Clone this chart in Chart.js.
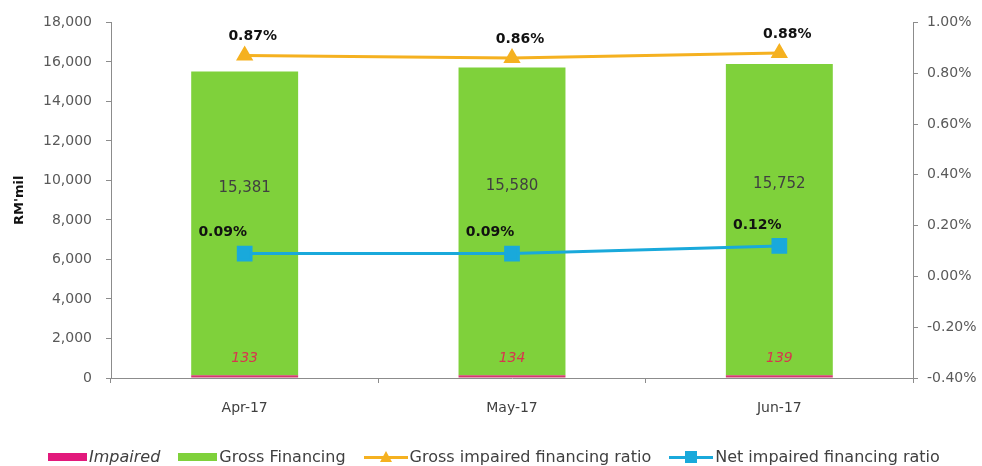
<!DOCTYPE html>
<html>
<head>
<meta charset="utf-8">
<script src="https://cdn.jsdelivr.net/npm/chart.js@4/dist/chart.umd.min.js"></script>
<style>
  body { margin: 0; background: #fff; font-family: "DejaVu Sans", sans-serif; }
  #wrap { position: relative; width: 982px; height: 466px; }
  #legend { position: absolute; left: 48px; top: 447px; display: flex; align-items: center;
            font-size: 16px; color: #404040; white-space: nowrap; }
  .item { display: flex; align-items: center; margin-right: 18px; }
  .box { width: 39px; height: 8px; margin-right: 2px; }
  .ln { position: relative; width: 44px; height: 14px; margin-right: 2px; }
  .ln .bar { position: absolute; left: 0; right: 0; top: 6px; height: 3px; }
  .ln .tri { position: absolute; left: 16px; top: 1px; width: 0; height: 0;
             border-left: 6px solid transparent; border-right: 6px solid transparent; border-bottom: 11px solid #F5B120; }
  .ln .sq { position: absolute; left: 16px; top: 1px; width: 12px; height: 12px; background: #19A9DB; }
</style>
</head>
<body>
<div id="wrap">
  <canvas id="chart" width="982" height="466"></canvas>
  <div id="legend">
    <div class="item"><div class="box" style="background:#E2197C"></div><i>Impaired</i></div>
    <div class="item"><div class="box" style="background:#7FD13B"></div>Gross Financing</div>
    <div class="item"><div class="ln"><div class="bar" style="background:#F5B120"></div><div class="tri"></div></div>Gross impaired financing ratio</div>
    <div class="item"><div class="ln"><div class="bar" style="background:#19A9DB"></div><div class="sq"></div></div>Net impaired financing ratio</div>
  </div>
</div>
<script>
const months = ["Apr-17", "May-17", "Jun-17"];
const impaired = [133, 134, 139];
const grossFinancing = [15381, 15580, 15752];
const grossRatio = [0.87, 0.86, 0.88];
const netRatio = [0.09, 0.09, 0.12];

const tickFont = { family: "DejaVu Sans", size: 14 };
const axisGray = "#8c8c8c";

// draws the value labels on bars and line points
const valueLabels = {
    id: "valueLabels",
    afterDatasetsDraw(chart) {
        const ctx = chart.ctx;
        ctx.save();
        ctx.textAlign = "center";
        ctx.textBaseline = "middle";
        chart.data.datasets.forEach((ds, i) => {
            const meta = chart.getDatasetMeta(i);
            meta.data.forEach((el, j) => {
                const v = ds.data[j];
                if (ds.label === "Impaired") {
                    ctx.font = "italic 14px 'DejaVu Sans'";
                    ctx.fillStyle = "#D9344F";
                    ctx.fillText(v, el.x, el.y - 17);
                } else if (ds.label === "Gross Financing") {
                    ctx.font = "15px 'DejaVu Sans'";
                    ctx.fillStyle = "#404040";
                    ctx.fillText(v.toLocaleString("en-US"), el.x, el.base - (el.base - el.y) * 0.615);
                } else if (ds.label === "Gross impaired financing ratio") {
                    ctx.font = "bold 14px 'DejaVu Sans'";
                    ctx.fillStyle = "#111";
                    ctx.fillText(v.toFixed(2) + "%", el.x + 8, el.y - 19);
                } else {
                    ctx.font = "bold 14px 'DejaVu Sans'";
                    ctx.fillStyle = "#111";
                    ctx.fillText(v.toFixed(2) + "%", el.x - 22, el.y - 21);
                }
            });
        });
        ctx.restore();
    }
};

new Chart(document.getElementById("chart"), {
    data: {
        labels: months,
        datasets: [
            { type: "bar", label: "Impaired", data: impaired, backgroundColor: "#D23A6E", yAxisID: "y", order: 1,
              barPercentage: 0.4, categoryPercentage: 1 },
            { type: "bar", label: "Gross Financing", data: grossFinancing, backgroundColor: "#7FD13B", yAxisID: "y", order: 1,
              barPercentage: 0.4, categoryPercentage: 1 },
            { type: "line", label: "Gross impaired financing ratio", data: grossRatio, borderColor: "#F5B120",
              backgroundColor: "#F5B120", borderWidth: 3, pointStyle: "triangle", pointRadius: 7,
              yAxisID: "y1", order: 0 },
            { type: "line", label: "Net impaired financing ratio", data: netRatio, borderColor: "#19A9DB",
              backgroundColor: "#19A9DB", borderWidth: 3, pointStyle: "rect", pointRadius: 9,
              yAxisID: "y1", order: 0 }
        ]
    },
    options: {
        responsive: false,
        animation: false,
        layout: { padding: { left: 12, top: 21, right: 0, bottom: 0 } },
        plugins: { legend: { display: false }, tooltip: { enabled: false } },
        scales: {
            x: {
                stacked: true,
                grid: { display: true, offset: true, drawOnChartArea: false, tickLength: 5, color: axisGray },
                border: { color: axisGray },
                ticks: { font: tickFont, color: "#404040", padding: 17 },
                afterFit(s) { s.height = 88; }
            },
            y: {
                stacked: true, position: "left", min: 0, max: 18000,
                grid: { drawOnChartArea: false, tickLength: 5, color: axisGray },
                border: { color: axisGray },
                ticks: { stepSize: 2000, font: tickFont, color: "#595959", padding: 14,
                         callback: v => v.toLocaleString("en-US") },
                title: { display: true, text: "RM'mil", font: { family: "DejaVu Sans", size: 13, weight: "bold" },
                         color: "#111", padding: 0 },
                afterFit(s) { s.width = 99; }
            },
            y1: {
                stacked: false, position: "right", min: -0.4, max: 1.0,
                grid: { drawOnChartArea: false, tickLength: 5, color: axisGray },
                border: { color: axisGray },
                ticks: { stepSize: 0.2, font: tickFont, color: "#595959", padding: 9,
                         callback: v => (Math.abs(v) < 1e-9 ? 0 : v).toFixed(2) + "%" },
                afterFit(s) { s.width = 69; }
            }
        }
    },
    plugins: [valueLabels]
});
</script>
</body>
</html>
